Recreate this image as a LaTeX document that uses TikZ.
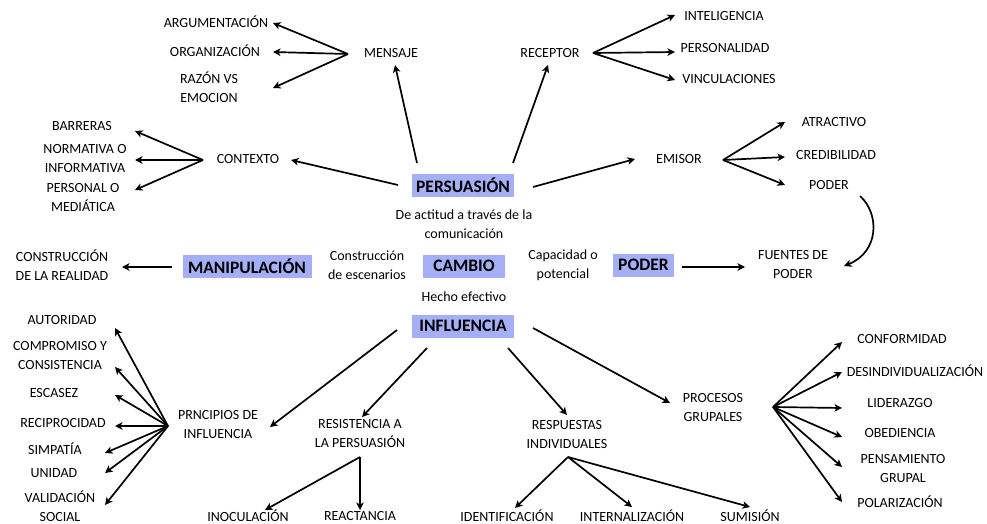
\documentclass[tikz,border=0pt]{standalone}
\usepackage{fontspec}
\setmainfont{Carlito}
\usetikzlibrary{arrows.meta}
\definecolor{boxblue}{RGB}{164,175,245}
\begin{document}
\begin{tikzpicture}[x=1pt,y=-1pt,
  lbl/.style={font=\fontsize{14}{19}\selectfont, align=center, inner sep=1pt},
  key/.style={fill=boxblue, font=\fontsize{17.5}{19}\selectfont\bfseries, minimum height=23pt, inner sep=0pt},
  arr/.style={line width=1.7pt, -{Stealth[length=7.5pt,width=7.5pt,inset=2pt]}},
]
\useasboundingbox (0,0) rectangle (987,524);

% ---------- key boxes
\node[key, minimum width=102pt] (pers)   at (463,185) {PERSUASIÓN};
\node[key, minimum width=129pt] (manip)  at (247,266) {MANIPULACIÓN};
\node[key, minimum width=82pt]  (cambio) at (464,266) {CAMBIO};
\node[key, minimum width=61pt]  (poderb) at (643.5,265) {PODER};
\node[key, minimum width=102pt] (infl)   at (463,326) {INFLUENCIA};

% ---------- small descriptions
\node[lbl] (desc)  at (464,224) {De actitud a través de la\\comunicación};
\node[lbl] (escen) at (367,265) {Construcción\\de escenarios};
\node[lbl] (capac) at (563,265) {Capacidad o\\potencial};
\node[lbl] (hecho) at (464,297) {Hecho efectivo};

% ---------- persuasion branch
\node[lbl] (mensaje)  at (391,53)  {MENSAJE};
\node[lbl] (arg)      at (216,22)  {ARGUMENTACIÓN};
\node[lbl] (org)      at (215,51)  {ORGANIZACIÓN};
\node[lbl] (raz)      at (209,87)  {RAZÓN VS\\EMOCION};
\node[lbl] (receptor) at (550,53)  {RECEPTOR};
\node[lbl] (intel)    at (724,16)  {INTELIGENCIA};
\node[lbl] (perso)    at (725,48)  {PERSONALIDAD};
\node[lbl] (vinc)     at (729,79)  {VINCULACIONES};
\node[lbl] (contexto) at (248,159) {CONTEXTO};
\node[lbl] (barr)     at (82,126)  {BARRERAS};
\node[lbl] (norm)     at (85,159)  {NORMATIVA O\\INFORMATIVA};
\node[lbl] (perm)     at (83,198)  {PERSONAL O\\MEDIÁTICA};
\node[lbl] (emisor)   at (679,159) {EMISOR};
\node[lbl] (atr)      at (834,122) {ATRACTIVO};
\node[lbl] (cred)     at (836,155) {CREDIBILIDAD};
\node[lbl] (poders)   at (829,185) {PODER};

% ---------- middle row
\node[lbl] (constr)  at (62,265)  {CONSTRUCCIÓN\\DE LA REALIDAD};
\node[lbl] (fuentes) at (793,265) {FUENTES DE\\PODER};

% ---------- influence branch
\node[lbl] (princ)  at (218,425) {PRNCIPIOS DE\\INFLUENCIA};
\node[lbl] (aut)    at (62,320)  {AUTORIDAD};
\node[lbl] (comp)   at (60,356)  {COMPROMISO Y\\CONSISTENCIA};
\node[lbl] (esc)    at (54,393)  {ESCASEZ};
\node[lbl] (recip)  at (63,423)  {RECIPROCIDAD};
\node[lbl] (simp)   at (55,449)  {SIMPATÍA};
\node[lbl] (unid)   at (54,473)  {UNIDAD};
\node[lbl] (valid)  at (60,506)  {VALIDACIÓN\\SOCIAL};
\node[lbl] (resist) at (360,434) {RESISTENCIA A\\LA PERSUASIÓN};
\node[lbl] (inoc)   at (248,516) {INOCULACIÓN};
\node[lbl] (react)  at (360,516) {REACTANCIA};
\node[lbl] (resp)   at (567,435) {RESPUESTAS\\INDIVIDUALES};
\node[lbl] (ident)  at (507,516) {IDENTIFICACIÓN};
\node[lbl] (intern) at (632,516) {INTERNALIZACIÓN};
\node[lbl] (sumis)  at (750,516) {SUMISIÓN};
\node[lbl] (proc)   at (713,408) {PROCESOS\\GRUPALES};
\node[lbl] (conf)   at (902,339) {CONFORMIDAD};
\node[lbl] (desind) at (915,371) {DESINDIVIDUALIZACIÓN};
\node[lbl] (lider)  at (900,403) {LIDERAZGO};
\node[lbl] (obed)   at (900,433) {OBEDIENCIA};
\node[lbl] (pens)   at (903,469) {PENSAMIENTO\\GRUPAL};
\node[lbl] (polar)  at (900,502) {POLARIZACIÓN};

% ---------- connector end points
\coordinate (hMen) at (348,54);
\coordinate (hRec) at (593,53);
\coordinate (hCon) at (203,160);
\coordinate (hEmi) at (723,160);
\coordinate (hPri) at (168,426);
\coordinate (hRes) at (360,457);
\coordinate (hRsp) at (568,457);
\coordinate (hPro) at (773,407);

\coordinate (eArg) at (273,23);
\coordinate (eOrg) at (273,52);
\coordinate (eRaz) at (273,88);
\coordinate (eInt) at (675,15);
\coordinate (ePer) at (675,52);
\coordinate (eVin) at (675,80);
\coordinate (eBar) at (135,131);
\coordinate (eNor) at (135,160);
\coordinate (ePem) at (135,190);
\coordinate (eAtr) at (785,122);
\coordinate (eCre) at (785,157);
\coordinate (ePod) at (785,185);

\coordinate (sPM) at (417,163); \coordinate (eMen) at (395,65);
\coordinate (sPC) at (398,185); \coordinate (eCon) at (291,160);
\coordinate (sPR) at (513,163); \coordinate (eRec) at (548,65);
\coordinate (sPE) at (533,187); \coordinate (eEmi) at (635,159);
\coordinate (sCu) at (860,196); \coordinate (eFu1) at (844,266);
\coordinate (sMa) at (172,267); \coordinate (eCns) at (122,267);
\coordinate (sPo) at (682,267); \coordinate (eFu2) at (745,267);
\coordinate (sIP) at (397,330); \coordinate (ePri) at (270,427);
\coordinate (sIR) at (427,348); \coordinate (eRes) at (362,417);
\coordinate (sIS) at (508,348); \coordinate (eRsp) at (567,415);
\coordinate (sIG) at (533,328); \coordinate (ePro) at (670,403);

\coordinate (eAut) at (115,328);
\coordinate (eCom) at (115,367);
\coordinate (eEsc) at (115,395);
\coordinate (eRci) at (115,426);
\coordinate (eSim) at (105,453);
\coordinate (eUni) at (105,473);
\coordinate (eVal) at (105,505);
\coordinate (eIno) at (265,510);
\coordinate (eRea) at (360,510);
\coordinate (eIde) at (515,508);
\coordinate (eInr) at (632,507);
\coordinate (eSum) at (750,507);
\coordinate (eCnf) at (842,342);
\coordinate (eDes) at (842,372);
\coordinate (eLid) at (842,408);
\coordinate (eObe) at (842,437);
\coordinate (ePen) at (842,467);
\coordinate (ePol) at (842,502);

% ---------- connectors
\draw[arr] (sPM) -- (eMen);
\draw[arr] (sPC) -- (eCon);
\draw[arr] (sPR) -- (eRec);
\draw[arr] (sPE) -- (eEmi);
\foreach \e in {eArg,eOrg,eRaz} \draw[arr] (hMen) -- (\e);
\foreach \e in {eInt,ePer,eVin} \draw[arr] (hRec) -- (\e);
\foreach \e in {eBar,eNor,ePem} \draw[arr] (hCon) -- (\e);
\foreach \e in {eAtr,eCre,ePod} \draw[arr] (hEmi) -- (\e);
\draw[arr] (sCu) .. controls (880,214) and (879,252) .. (eFu1);
\draw[arr] (sMa) -- (eCns);
\draw[arr] (sPo) -- (eFu2);
\draw[arr] (sIP) -- (ePri);
\draw[arr] (sIR) -- (eRes);
\draw[arr] (sIS) -- (eRsp);
\draw[arr] (sIG) -- (ePro);
\foreach \e in {eAut,eCom,eEsc,eRci,eSim,eUni,eVal} \draw[arr] (hPri) -- (\e);
\foreach \e in {eIno,eRea} \draw[arr] (hRes) -- (\e);
\foreach \e in {eIde,eInr,eSum} \draw[arr] (hRsp) -- (\e);
\foreach \e in {eCnf,eDes,eLid,eObe,ePen,ePol} \draw[arr] (hPro) -- (\e);
\end{tikzpicture}
\end{document}
